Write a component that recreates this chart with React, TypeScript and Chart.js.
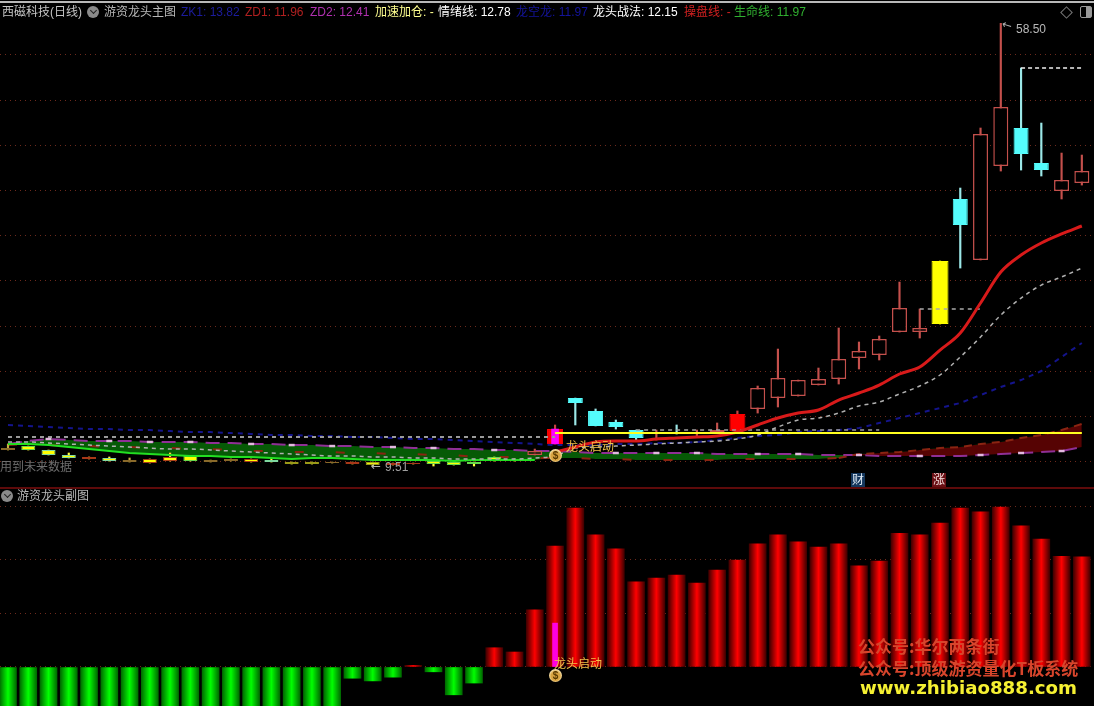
import React, { useEffect, useRef } from "react";
import { Chart, registerables } from "chart.js";

Chart.register(...registerables);

// ---- main pane data (prices) ----
const candleIndex = Array.from({ length: 54 }, (_, i) => i);
const bodyTops = [11.52,11.74,11.30,10.75,10.53,10.42,10.19,10.31,10.53,10.64,10.19,10.31,10.31,10.19,9.97,9.97,9.97,9.97,9.97,9.86,9.86,10.08,9.97,9.97,10.53,10.31,11.19,13.62,17.05,15.62,14.40,13.51,13.29,13.29,13.29,13.51,15.28,18.16,19.27,19.04,19.15,21.37,22.25,23.58,27.01,24.80,32.21,39.07,46.26,49.24,46.92,43.05,41.17,42.16];
const bodyBottoms = [11.30,11.30,10.75,10.42,10.31,10.08,9.97,9.86,10.08,10.08,9.97,10.08,9.97,9.97,9.75,9.75,9.86,9.75,9.64,9.64,9.75,9.75,9.64,9.75,10.08,10.08,10.75,11.97,16.50,13.96,13.85,12.63,13.07,13.18,13.07,13.18,13.40,15.84,17.05,17.27,18.49,19.15,21.48,21.81,24.35,24.35,25.24,36.19,32.32,42.72,44.04,42.27,39.95,40.84];
const highs = [11.97,11.74,11.30,10.97,10.53,10.53,10.42,10.31,10.97,10.64,10.19,10.31,10.31,10.42,9.97,9.97,9.97,9.97,9.97,9.86,9.86,10.31,9.97,9.97,10.53,10.31,11.41,14.07,17.05,15.84,14.62,13.51,13.51,14.07,13.51,14.29,15.62,18.38,22.47,19.04,20.37,24.80,23.25,23.91,29.88,26.90,32.21,40.28,46.92,58.50,53.56,47.47,44.15,43.93];
const lows = [11.30,11.30,10.75,10.42,10.31,10.08,9.97,9.86,10.08,10.08,9.97,10.08,9.97,9.97,9.75,9.75,9.86,9.75,9.51,9.64,9.75,9.53,9.64,9.53,10.08,10.08,10.75,11.97,14.07,13.96,13.62,12.41,12.41,13.07,12.85,13.18,13.40,15.39,16.06,17.27,18.49,18.60,20.26,21.26,24.35,23.69,25.24,31.43,32.32,42.16,42.27,41.61,39.07,40.61];
const candleKinds = ["olive","yGreen","yCyan","yCyan","yRed","yCyan","olive","yRed","yRed","yGreen","olive","olive","yRed","yCyan","plainY","plainY","olive","yRed","plainY","yRed","yRed","yGreen","yGreen","yGreen","yGreen","yGreen","hollow","solid","cyan","cyan","cyan","cyan","hollow","cyan","hollow","hollow","solid","hollow","hollow","hollow","hollow","hollow","hollow","hollow","hollow","hollow","yellow","cyan","hollow","hollow","cyan","cyan","hollow","hollow"];
const leadBarTop = 13.62;
const leadBarBottom = 11.97;
const leadIndex = 27;

const operateLine = [null,null,null,null,null,null,null,null,null,null,null,null,null,null,null,null,null,null,null,null,null,null,null,null,null,null,null,11.08,11.63,12.19,12.30,12.30,12.52,12.63,12.74,12.85,13.29,14.07,14.84,15.39,15.73,16.83,17.61,18.49,19.71,20.48,22.36,24.24,27.56,30.99,32.87,34.20,35.20,36.08];
const moodLine = [12.19,12.19,12.08,11.97,11.85,11.74,11.63,11.52,11.41,11.41,11.30,11.19,11.08,10.97,10.86,10.75,10.64,10.64,10.53,10.53,10.42,10.42,10.31,10.31,10.31,10.31,10.42,10.64,11.52,11.63,11.74,11.85,11.97,12.08,12.19,12.30,12.52,12.96,13.85,14.62,14.84,15.39,16.17,16.61,17.50,18.38,19.60,21.59,23.80,26.23,28.11,29.55,30.44,31.43];
const dragonLine = [14.07,13.96,13.85,13.73,13.62,13.62,13.51,13.51,13.40,13.29,13.29,13.18,13.07,12.96,12.96,12.85,12.85,12.74,12.74,12.63,12.52,12.52,12.41,12.30,12.19,12.08,11.97,11.85,11.85,11.85,11.97,11.97,12.08,12.08,12.19,12.41,12.63,12.85,12.96,13.29,13.40,13.51,13.73,14.29,14.84,15.39,15.95,16.50,17.38,18.27,19.04,20.04,21.59,23.14];
const lifeLine = [11.97,11.97,11.85,11.63,11.41,11.19,10.97,10.86,10.75,10.64,10.64,10.53,10.53,10.42,10.31,10.42,10.42,10.31,10.19,10.19,10.19,10.19,10.08,10.19,10.19,10.19,10.19];
const bandPurple = [11.97,12.30,12.52,12.41,12.30,12.30,12.30,12.19,12.19,12.19,12.08,12.08,11.97,11.97,11.85,11.85,11.74,11.74,11.63,11.63,11.52,11.52,11.41,11.41,11.30,11.30,11.19,11.19,11.08,10.97,10.97,10.97,10.97,10.97,10.97,10.86,10.86,10.86,10.86,10.86,10.75,10.75,10.75,10.64,10.64,10.64,10.64,10.64,10.75,10.86,10.97,11.08,11.19,11.63];
const bandRed = [11.85,11.97,11.85,11.74,11.74,11.63,11.63,11.52,11.52,11.41,11.41,11.30,11.19,11.19,11.08,11.08,11.08,10.97,10.97,10.86,10.86,10.75,10.75,10.53,10.53,10.53,10.42,10.42,10.42,10.31,10.31,10.19,10.19,10.19,10.19,10.19,10.31,10.31,10.31,10.31,10.31,10.42,10.86,10.97,11.08,11.30,11.52,11.63,11.97,12.19,12.63,12.96,13.51,14.18];
const paleMarkIndex = [2,5,7,9,12,14,16,19,21,24,30,32,34,37,39,42,45,48,50,52];
const yellowLevel = 13.18;
const yellowFrom = 27;
const flatGreyA = { value: 12.74, from: 0, to: 27 };
const flatGreyB = { value: 13.51, from: 31, to: 43 };
const flatGreyC = { value: 26.90, from: 45, to: 48 };
const flatWhite = { value: 53.56, from: 50, to: 53 };
const priceGridTicks = [55, 50, 45, 40, 35, 30, 25, 20, 15, 10];
const sparseBandUntil = 41;

// ---- sub pane data ----
const subValues = [-1,-1,-1,-1,-1,-1,-1,-1,-1,-1,-1,-1,-1,-1,-1,-1,-1,-0.21,-0.26,-0.19,0.03,-0.09,-0.52,-0.30,0.36,0.28,1.07,2.26,2.97,2.47,2.21,1.59,1.66,1.72,1.57,1.81,2.00,2.30,2.47,2.34,2.24,2.30,1.89,1.98,2.50,2.47,2.69,2.97,2.90,2.99,2.64,2.39,2.07,2.06];
const subLeadValue = 0.82;
const subGridTicks = [0, 1, 2, 3];

const KIND_STYLE: Record<string, { fill: string; edge: string; wick: string; width: number }> = {
  olive: { fill: "#5c5218", edge: "#8a6a2a", wick: "#c8b040", width: 14 },
  yGreen: { fill: "#ffff00", edge: "#66d84a", wick: "#ffff40", width: 14 },
  yCyan: { fill: "#ffff00", edge: "#7fd8a0", wick: "#ffff40", width: 14 },
  yRed: { fill: "#ffff00", edge: "#a83818", wick: "#ffd040", width: 14 },
  plainY: { fill: "#eeee10", edge: "#9a9a18", wick: "#ffff40", width: 14 },
  hollow: { fill: "#000000", edge: "#c4504c", wick: "#c4504c", width: 15 },
  solid: { fill: "#ff0000", edge: "#ff0000", wick: "#c84040", width: 16 },
  cyan: { fill: "#54fcfc", edge: "#54fcfc", wick: "#9ce8e8", width: 15 },
  yellow: { fill: "#ffff00", edge: "#ffff00", wick: "#ffff00", width: 17 },
};

const pts = (arr: (number | null)[]) => arr.map((y, x) => ({ x, y }));
const flat = (s: { value: number; from: number; to: number }) =>
  candleIndex.map((x) => ({ x, y: x >= s.from && x <= s.to ? s.value : null }));

const xScale = {
  type: "linear" as const,
  display: false,
  offset: false,
  min: -0.395,
  max: 53.6,
  grid: { display: false },
};

const gridColor = "#6e2a1c";

function yAxis(min: number, max: number, ticks: number[]) {
  return {
    type: "linear" as const,
    min,
    max,
    afterBuildTicks: (s: any) => {
      s.ticks = ticks.map((value) => ({ value }));
    },
    ticks: { display: false },
    border: { display: false, dash: [1, 4] },
    grid: { color: gridColor, lineWidth: 1, drawTicks: false },
  };
}

const baseOptions = {
  responsive: false,
  animation: false as const,
  events: [] as any[],
  layout: { padding: 0, autoPadding: false },
  plugins: { legend: { display: false }, tooltip: { enabled: false }, title: { display: false } },
};

function line(label: string, data: any[], color: string, width: number, dash: number[], order: number, extra: any = {}) {
  return {
    type: "line" as const,
    label,
    data,
    borderColor: color,
    borderWidth: width,
    borderDash: dash,
    pointRadius: 0,
    tension: 0,
    spanGaps: false,
    order,
    fill: false,
    ...extra,
  };
}

const T: React.FC<{ x: number; y: number; c: string; s?: number; b?: boolean; f?: string; children: React.ReactNode }> = ({ x, y, c, s = 12, b, f, children }) => (
  <span
    style={{
      position: "absolute",
      left: x,
      top: y,
      color: c,
      fontSize: s,
      lineHeight: `${s + 2}px`,
      fontWeight: b ? 700 : 400,
      whiteSpace: "nowrap",
      fontFamily: f || '"Liberation Sans", "Noto Sans CJK SC", sans-serif',
    }}
  >
    {children}
  </span>
);

const Chevron: React.FC<{ x: number; y: number }> = ({ x, y }) => (
  <div style={{ position: "absolute", left: x, top: y, width: 12, height: 12, borderRadius: 6, background: "#8a8a8a" }}>
    <div style={{ position: "absolute", left: 3.5, top: 2, width: 4, height: 4, borderRight: "1.5px solid #222", borderBottom: "1.5px solid #222", transform: "rotate(45deg)" }} />
  </div>
);

const Bag: React.FC<{ x: number; y: number }> = ({ x, y }) => (
  <div
    style={{
      position: "absolute",
      left: x - 6,
      top: y - 6,
      width: 13,
      height: 13,
      borderRadius: 7,
      background: "radial-gradient(circle at 50% 55%, #d9a441 0 45%, #fff2c8 75%)",
      color: "#5a3a00",
      fontSize: 10,
      lineHeight: "13px",
      textAlign: "center",
      fontWeight: 700,
      fontFamily: '"Liberation Sans", sans-serif',
    }}
  >
    $
  </div>
);

export default function App() {
  const mainRef = useRef<HTMLCanvasElement>(null);
  const subRef = useRef<HTMLCanvasElement>(null);

  useEffect(() => {
    document.body.style.margin = "0";
    document.body.style.background = "#000";

    const candleStyle = (i: number) => KIND_STYLE[candleKinds[i]];
    const bandFloor = candleIndex.map((i) =>
      i < lifeLine.length ? Math.min(lifeLine[i], bandRed[i]) : bandRed[i]
    );

    const bodyDatasets = Object.keys(KIND_STYLE).map((kind) => ({
      type: "bar" as const,
      label: kind,
      data: candleIndex
        .filter((i) => candleKinds[i] === kind)
        .map((x) => ({ x, y: [bodyBottoms[x], bodyTops[x]] })),
      backgroundColor: KIND_STYLE[kind].fill,
      borderColor: KIND_STYLE[kind].edge,
      borderWidth: kind === "hollow" ? 1.5 : 1,
      borderSkipped: false,
      inflateAmount: 0,
      barThickness: KIND_STYLE[kind].width,
      grouped: false,
      order: 20,
    }));

    const main = new Chart(mainRef.current as HTMLCanvasElement, {
      type: "bar",
      data: {
        datasets: [
          line("紫带", pts(bandPurple), "#8f2f95", 2, [14, 8], 30, {
            fill: { target: "+1", above: "#065a06", below: "#560303" },
          }),
          line("带底", pts(bandFloor), "rgba(0,0,0,0)", 0, [], 31),
          line("红带", pts(bandRed), "#8a2412", 2, [8, 8], 29, {
            segment: {
              borderDash: (c: any) => (c.p0DataIndex < sparseBandUntil ? [9, 32] : [8, 6]),
            },
          }),
          line("生命线", pts(lifeLine), "#22e022", 2, [], 8),
          line("灰线A", flat(flatGreyA), "#9a9a9a", 2, [4, 4], 9),
          line("灰线B", flat(flatGreyB), "#a0a0a0", 1.5, [4, 4], 9),
          line("灰线C", flat(flatGreyC), "#a8a8a8", 1.5, [4, 4], 9),
          line("白线", flat(flatWhite), "#f0f0f0", 1.5, [4, 3], 9),
          line("龙空龙", pts(dragonLine), "#14148c", 2, [5, 5], 10),
          line("情绪线", pts(moodLine), "#b0b0b0", 1.5, [4, 4], 7, { cubicInterpolationMode: "monotone" }),
          line("操盘线", pts(operateLine), "#d81a1a", 3, [], 6, { cubicInterpolationMode: "monotone" }),
          line("黄线", candleIndex.map((x) => ({ x, y: x >= yellowFrom ? yellowLevel : null })), "#ffff20", 2, [], 5),
          {
            type: "line" as const,
            label: "浅标记",
            data: paleMarkIndex.map((x) => ({ x, y: bandPurple[x] })),
            showLine: false,
            pointStyle: "line",
            pointRadius: 3,
            pointBorderColor: "#e3b8e0",
            pointBorderWidth: 2.5,
            order: 4,
          },
          {
            type: "bar" as const,
            label: "影线",
            data: candleIndex.map((x) => ({ x, y: [lows[x], highs[x]] })),
            backgroundColor: candleIndex.map((i) => candleStyle(i).wick),
            barThickness: 1.5,
            grouped: false,
            order: 21,
          },
          ...bodyDatasets,
          {
            type: "bar" as const,
            label: "龙头",
            data: [{ x: leadIndex, y: [leadBarBottom, leadBarTop] }],
            backgroundColor: "#ff00ff",
            barThickness: 7,
            grouped: false,
            order: 19,
          },
        ] as any,
      },
      options: {
        ...baseOptions,
        scales: {
          x: xScale,
          y: yAxis(7.21, 61.08, priceGridTicks),
        },
      } as any,
    });

    const gradient = (ctx: any, edge: string, mid: string) => {
      const px = ctx.chart.scales.x.getPixelForValue(ctx.dataIndex);
      if (!Number.isFinite(px)) return mid;
      const g = ctx.chart.ctx.createLinearGradient(px - 8.5, 0, px + 8.5, 0);
      g.addColorStop(0, edge);
      g.addColorStop(0.5, mid);
      g.addColorStop(1, edge);
      return g;
    };

    const sub = new Chart(subRef.current as HTMLCanvasElement, {
      type: "bar",
      data: {
        datasets: [
          {
            label: "副图",
            data: subValues.map((y, x) => ({ x, y })),
            backgroundColor: (ctx: any) =>
              ctx.dataIndex === undefined
                ? "#ff0000"
                : subValues[ctx.dataIndex] >= 0
                ? gradient(ctx, "#420000", "#ff0000")
                : gradient(ctx, "#006a00", "#00ff00"),
            barThickness: 17,
            grouped: false,
            order: 2,
          },
          {
            label: "龙头",
            data: [{ x: leadIndex, y: subLeadValue }],
            backgroundColor: "#ff00e0",
            barThickness: 5,
            grouped: false,
            order: 1,
          },
        ] as any,
      },
      options: {
        ...baseOptions,
        scales: {
          x: xScale,
          y: yAxis(-0.729, 3.364, subGridTicks),
        },
      } as any,
    });

    return () => {
      main.destroy();
      sub.destroy();
    };
  }, []);

  return (
    <div style={{ position: "absolute", left: 0, top: 0, width: 1094, height: 706, background: "#000", overflow: "hidden" }}>
      <canvas ref={mainRef} width={1094} height={487} style={{ position: "absolute", left: 0, top: 0, width: 1094, height: 487 }} />
      <canvas ref={subRef} width={1094} height={219} style={{ position: "absolute", left: 0, top: 487, width: 1094, height: 219 }} />

      <div style={{ position: "absolute", left: 0, top: 1, width: 1094, height: 2, background: "#b8b8b8" }} />
      <div style={{ position: "absolute", left: 0, top: 487, width: 1094, height: 2, background: "#5e0a0a" }} />

      <T x={2} y={5} c="#c4c4c4" s={12}>西磁科技(日线)</T>
      <Chevron x={87} y={6} />
      <T x={104} y={5} c="#b8b8b8">游资龙头主图</T>
      <T x={181} y={5} c="#1c1c9c">ZK1: 13.82</T>
      <T x={245} y={5} c="#b02020">ZD1: 11.96</T>
      <T x={310} y={5} c="#b030b0">ZD2: 12.41</T>
      <T x={375} y={5} c="#ffff90">加速加仓: -</T>
      <T x={438} y={5} c="#ffffff">情绪线: 12.78</T>
      <T x={516} y={5} c="#14149c">龙空龙: 11.97</T>
      <T x={593} y={5} c="#ffffff">龙头战法: 12.15</T>
      <T x={684} y={5} c="#d02020">操盘线: -</T>
      <T x={734} y={5} c="#30b030">生命线: 11.97</T>

      <div style={{ position: "absolute", left: 1062, top: 8, width: 7, height: 7, border: "1px solid #777", transform: "rotate(45deg)" }} />
      <div style={{ position: "absolute", left: 1080, top: 6, width: 10, height: 10, border: "1px solid #999", borderRadius: 2 }}>
        <div style={{ position: "absolute", right: 0, top: 0, width: 5, height: 10, background: "#999" }} />
      </div>

      <span style={{ position: "absolute", left: 1002, top: 18, color: "#b0b0b0", fontSize: 12, lineHeight: "14px", transform: "rotate(18deg)", fontFamily: '"DejaVu Sans", sans-serif' }}>←</span>
      <T x={1016} y={22} c="#b8b8b8">58.50</T>
      <span style={{ position: "absolute", left: 371, top: 459, color: "#b0b0b0", fontSize: 12, lineHeight: "14px", fontFamily: '"DejaVu Sans", sans-serif' }}>←</span>
      <T x={385} y={460} c="#a0a0a0">9.51</T>

      <T x={0} y={460} c="#6e6e6e">用到未来数据</T>
      <T x={566} y={440} c="#f2c24a">龙头启动</T>
      <Bag x={555} y={455} />

      <div style={{ position: "absolute", left: 851, top: 473, width: 14, height: 14, background: "#13365c" }} />
      <T x={852} y={473} c="#dfeaf5">财</T>
      <div style={{ position: "absolute", left: 932, top: 473, width: 14, height: 14, background: "#6a0f14" }} />
      <T x={933} y={473} c="#f5dede">涨</T>

      <Chevron x={1} y={490} />
      <T x={17} y={489} c="#b8b8b8" s={12}>游资龙头副图</T>

      <T x={554} y={657} c="#f2c24a">龙头启动</T>
      <Bag x={555} y={675} />

      <T x={858} y={636} c="#d8452c" s={17} b f='"Noto Sans CJK SC", sans-serif'>公众号:华尔两条街</T>
      <T x={858} y={658} c="#d8452c" s={17} b f='"Noto Sans CJK SC", sans-serif'>公众号:顶级游资量化T板系统</T>
      <T x={860} y={678} c="#f5f032" s={18.2} b f='"DejaVu Sans", sans-serif'>www.zhibiao888.com</T>
    </div>
  );
}
